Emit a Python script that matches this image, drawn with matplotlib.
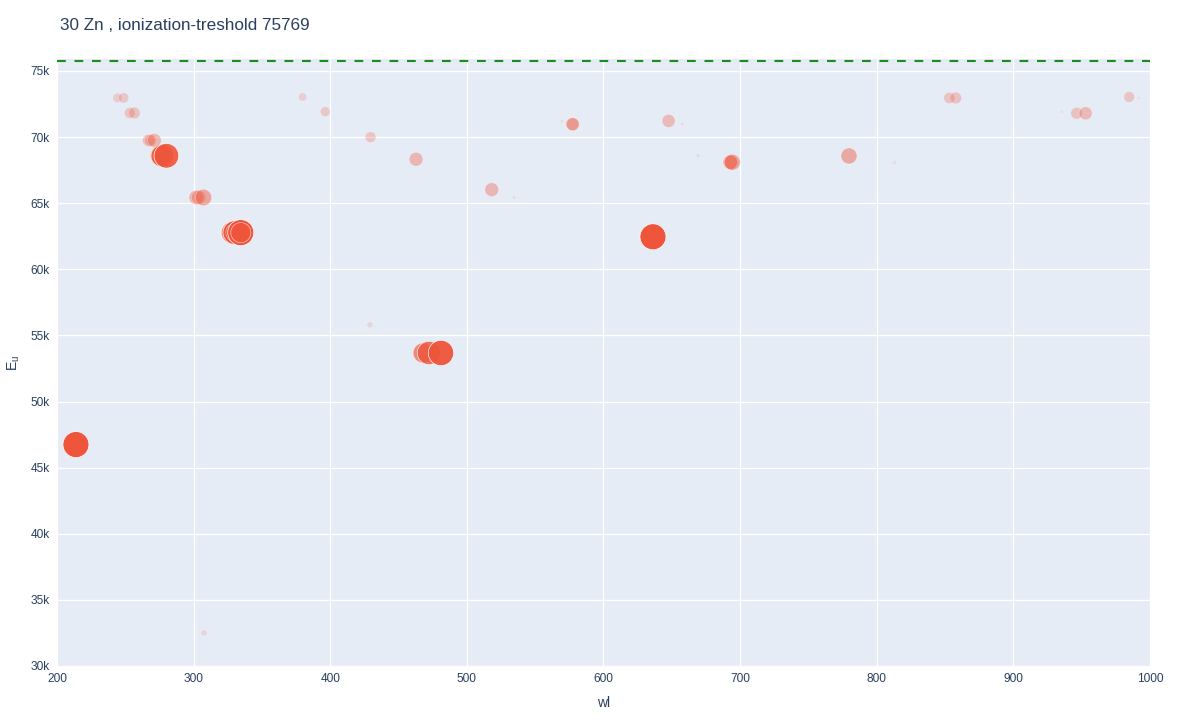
import numpy as np
import matplotlib.pyplot as plt
from matplotlib.ticker import FuncFormatter, MultipleLocator

plt.rcParams['font.family'] = ['Liberation Sans', 'DejaVu Sans']

BG = '#E5ECF6'; FG = '#2a3f5f'; RED = (0.937, 0.333, 0.231)

ION_LIMIT = 75769
TITLE = '30 Zn , ionization-treshold 75769'

# lines: wavelength (nm), upper level energy (cm-1), relative intensity
wl = [213.86, 307.59,
      328.23, 330.26, 330.29, 334.50, 334.56,
      468.01, 472.22, 481.05, 636.23,
      275.65, 277.09, 280.09,
      301.84, 303.58, 307.21,
      267.05, 268.42, 271.25,
      253.2, 256.6, 244.3, 248.8,
      379.8, 396.4, 429.5, 462.8, 518.2, 534.7,
      577.2, 577.6, 569.6, 429.1,
      647.7, 657.7, 669.2,
      692.6, 693.2, 694.3, 779.7, 813.1,
      853.1, 857.8, 935.6, 946.3, 952.9, 984.8, 992.0]
Eu = [46745, 32501,
      62772, 62772, 62772, 62772, 62772,
      53672, 53672, 53672, 62459,
      68583, 68583, 68583,
      65432, 65432, 65432,
      69744, 69744, 69744,
      71823, 71823, 72960, 72960,
      73033, 71921, 69985, 68321, 66023, 65418,
      70969, 70969, 71219, 55790,
      71219, 70969, 68594,
      68095, 68095, 68095, 68571, 68065,
      72958, 72958, 71921, 71800, 71800, 73033, 72958]
intensity = [1.0, 0.05,
             0.7, 0.85, 0.5, 1.0, 0.6,
             0.6, 0.8, 0.95, 1.0,
             0.6, 0.75, 0.9,
             0.3, 0.3, 0.4,
             0.22, 0.2, 0.28,
             0.17, 0.2, 0.13, 0.15,
             0.1, 0.14, 0.17, 0.28, 0.28, 0.015,
             0.25, 0.25, 0.015, 0.05,
             0.25, 0.015, 0.02,
             0.3, 0.3, 0.38, 0.38, 0.02,
             0.18, 0.2, 0.01, 0.2, 0.25, 0.17, 0.01]

I = np.array(intensity)
alpha = 0.1 + 0.9 * I
faces = [(*RED, a) for a in alpha]
edges = [(1, 1, 1, a) for a in alpha]

fig = plt.figure(figsize=(12, 7.2), dpi=100)
ax = fig.add_axes([0.0475, 0.075, 0.9108, 0.843])
ax.set_facecolor(BG)
for s in ax.spines.values():
    s.set_visible(False)

ax.scatter(wl, Eu, s=350 * I, c=faces, edgecolors=edges, linewidths=0.5, zorder=3)
ax.axhline(ION_LIMIT, color='#1f8a1f', lw=1.5, ls=(0, (4.2, 4.2)), zorder=4)

ax.set_xlim(200, 1000)
ax.set_ylim(30000, 75900)
ax.xaxis.set_major_locator(MultipleLocator(100))
ax.yaxis.set_major_locator(MultipleLocator(5000))
ax.yaxis.set_major_formatter(FuncFormatter(lambda v, p: f'{int(v/1000)}k'))
ax.grid(True, color='white', lw=1.0, zorder=0)
ax.set_axisbelow(True)
ax.tick_params(length=0, colors=FG, labelsize=8.6, pad=5)

ax.set_xlabel('wl', fontsize=10, color=FG, labelpad=8)
ax.set_ylabel(r'E$_\mathregular{u}$', fontsize=10, color=FG, labelpad=6)
fig.text(0.05, 0.965, TITLE, fontsize=12.3, color=FG, va='center')

fig.savefig('out.png', dpi=100, facecolor='white')
